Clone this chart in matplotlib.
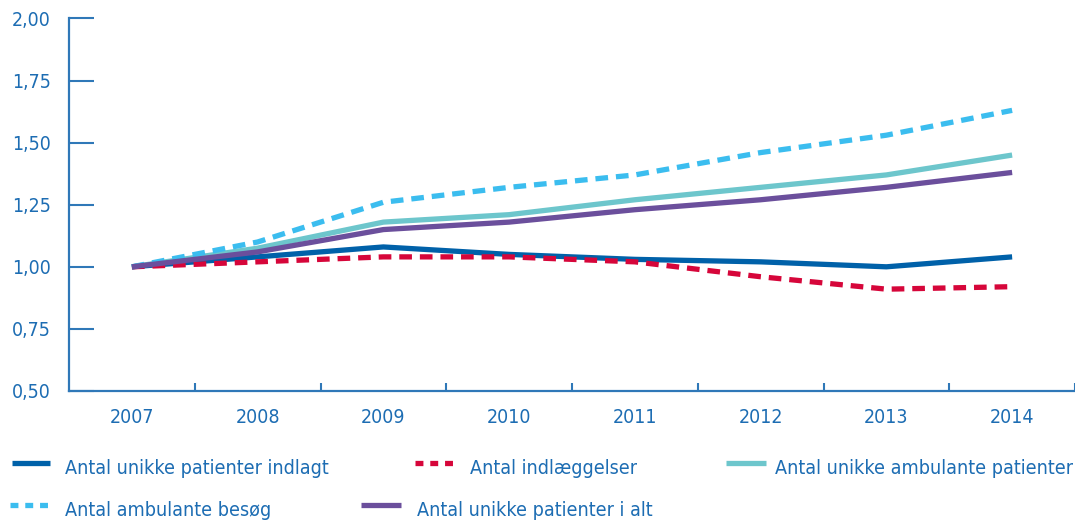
import matplotlib.pyplot as plt
from matplotlib.lines import Line2D

plt.rcParams['font.family'] = ['DejaVu Sans']
plt.rcParams['font.stretch'] = 'condensed'

years = ['2007', '2008', '2009', '2010', '2011', '2012', '2013', '2014']

indlagt = [1.00, 1.04, 1.08, 1.05, 1.03, 1.02, 1.00, 1.04]
indlaeggelser = [1.00, 1.02, 1.04, 1.04, 1.02, 0.96, 0.91, 0.92]
ambulante_patienter = [1.00, 1.075, 1.18, 1.21, 1.27, 1.32, 1.37, 1.45]
ambulante_besoeg = [1.00, 1.10, 1.26, 1.32, 1.37, 1.46, 1.53, 1.63]
i_alt = [1.00, 1.06, 1.15, 1.18, 1.23, 1.27, 1.32, 1.38]

labels = ['Antal unikke patienter indlagt', 'Antal indlæggelser',
          'Antal unikke ambulante patienter', 'Antal ambulante besøg',
          'Antal unikke patienter i alt']
yticks = [0.50, 0.75, 1.00, 1.25, 1.50, 1.75, 2.00]

c_dark = '#0061a9'
c_red = '#d6063a'
c_teal = '#6dc6cc'
c_light = '#3bbdef'
c_purple = '#6b4f9c'
c_text = '#1d6db3'
c_axis = '#2f78b8'

lw = 3.8
dash = (2.4, 1.5)

fig = plt.figure(figsize=(10.75, 5.22), dpi=100)
ax = fig.add_axes([0.0642, 0.251, 1.0 - 0.0642, 0.9646 - 0.251])

x = list(range(len(years)))
ax.plot(x, ambulante_patienter, color=c_teal, lw=lw, solid_capstyle='butt', zorder=3)
ax.plot(x, indlagt, color=c_dark, lw=lw, solid_capstyle='butt', zorder=3)
ax.plot(x, indlaeggelser, color=c_red, lw=lw, dashes=dash, dash_capstyle='butt', zorder=4)
ax.plot(x, ambulante_besoeg, color=c_light, lw=lw, dashes=dash, dash_capstyle='butt', zorder=4)
ax.plot(x, i_alt, color=c_purple, lw=lw, solid_capstyle='butt', zorder=5)

ax.set_xlim(-0.5, 7.44)
ax.set_ylim(0.5, 2.0)
ax.set_yticks(yticks)
ax.set_yticklabels([f'{v:.2f}'.replace('.', ',') for v in yticks])
ax.set_xticks(x)
ax.set_xticklabels(years)
ax.set_xticks([i + 0.5 for i in x], minor=True)

for s in ['top', 'right']:
    ax.spines[s].set_visible(False)
for s in ['left', 'bottom']:
    ax.spines[s].set_color(c_axis)
    ax.spines[s].set_linewidth(1.6)

ax.tick_params(axis='y', direction='in', length=18, width=1.5, color=c_axis,
               labelcolor=c_text, labelsize=14, pad=13)
ax.tick_params(axis='x', which='major', length=0, labelcolor=c_text,
               labelsize=14, pad=12)
ax.tick_params(axis='x', which='minor', direction='in', length=6, width=1.5,
               color=c_axis)

# legend laid out like the original
leg_dash = (1.5, 1.3)
entries = [
    (labels[0], c_dark, None, 12, 50, 65, 469),
    (labels[1], c_red, leg_dash, 415, 453, 470, 469),
    (labels[2], c_teal, None, 726, 766, 775, 469),
    (labels[3], c_light, leg_dash, 10, 48, 65, 511),
    (labels[4], c_purple, None, 361, 401, 417, 511),
]
W, H = 1075, 522
for text, col, ds, x0, x1, tx, ty in entries:
    yy = 1 - (ty - 6) / H
    ln = Line2D([x0 / W, x1 / W], [yy, yy], transform=fig.transFigure,
                color=col, lw=lw)
    if ds:
        ln.set_dashes(ds)
        ln.set_dash_capstyle('butt')
    else:
        ln.set_solid_capstyle('butt')
    fig.add_artist(ln)
    fig.text(tx / W, 1 - ty / H, text, color=c_text, fontsize=14.1,
             ha='left', va='center')

fig.savefig('out.png', dpi=100)
